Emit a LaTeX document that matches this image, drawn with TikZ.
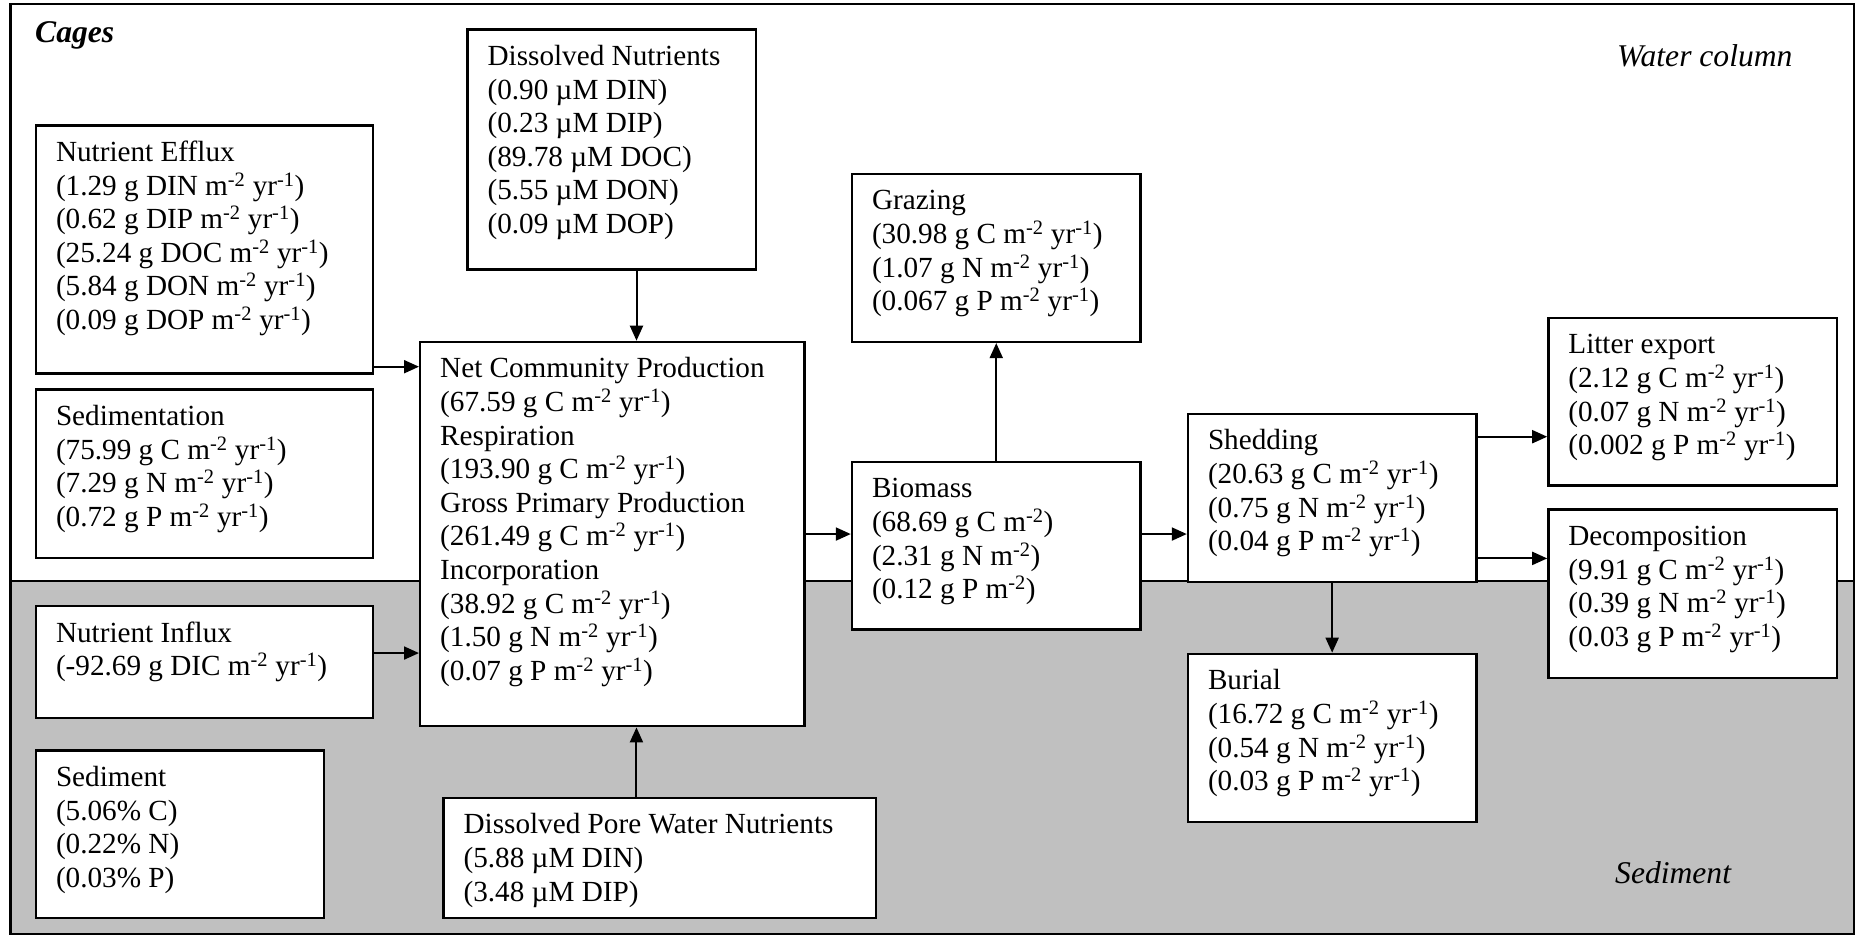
\documentclass[tikz,border=0pt]{standalone}
\usepackage{fontspec}
\setmainfont{Liberation Serif}
\usetikzlibrary{arrows.meta}
\definecolor{sedgray}{HTML}{C0C0C0}
\newcommand{\flx}{m\textsuperscript{-2} yr\textsuperscript{-1}}
\newcommand{\sqm}{m\textsuperscript{-2}}
\begin{document}
\begin{tikzpicture}[x=1pt,y=-1pt,
  bx/.style={draw, fill=white, line width=2.4pt, inner sep=0pt, anchor=north west},
  txt/.style={anchor=north west, align=left, inner sep=0pt, font=\fontsize{29.2}{33.6}\selectfont},
  arr/.style={line width=2pt, -{Triangle[length=15pt,width=13pt]}},
  lbl/.style={anchor=base west, inner sep=0pt, font=\fontsize{31.6}{36}\selectfont\itshape}]

\useasboundingbox (0,0) rectangle (1856,936);
% sediment layer and frame
\fill[sedgray] (10.5,581) rectangle (1854,934);
\draw[line width=2.2pt] (10.5,581) -- (1854,581);
\draw[line width=2.5pt] (10.5,4) rectangle (1854,934);

% region labels
\node[lbl, font=\fontsize{31.6}{36}\selectfont\bfseries\itshape] (cages) at (35,43) {Cages};
\node[lbl] (wcol) at (1617,67) {Water column};
\node[lbl] (sedl) at (1615,883) {Sediment};

% boxes
\node[bx, minimum width=336.9pt, minimum height=248pt] (ne) at (34.8,124.3) {};
\node[bx, minimum width=336.9pt, minimum height=168.4pt] (sed) at (34.8,388.3) {};
\node[bx, minimum width=336.9pt, minimum height=111.7pt] (ni) at (34.8,605) {};
\node[bx, minimum width=287.8pt, minimum height=167.4pt] (sdm) at (34.8,749.3) {};
\node[bx, minimum width=288.6pt, minimum height=240pt] (dn) at (466.4,28.3) {};
\node[bx, minimum width=384.2pt, minimum height=384.3pt] (ncp) at (419,340.7) {};
\node[bx, minimum width=432.1pt, minimum height=120pt] (dpw) at (442.4,796.7) {};
\node[bx, minimum width=288.5pt, minimum height=168pt] (gr) at (850.8,172.7) {};
\node[bx, minimum width=288.5pt, minimum height=167.6pt] (bio) at (850.8,460.7) {};
\node[bx, minimum width=288.3pt, minimum height=168.3pt] (sh) at (1186.8,412.7) {};
\node[bx, minimum width=288.6pt, minimum height=167.6pt] (lit) at (1547.2,316.7) {};
\node[bx, minimum width=288.6pt, minimum height=168.4pt] (dec) at (1547.2,508.3) {};
\node[bx, minimum width=288.3pt, minimum height=168pt] (bur) at (1186.8,652.7) {};

% texts
\node[txt] (ne-t) at ([xshift=21pt,yshift=-13.5pt]ne.north west) {\strut Nutrient Efflux\\(1.29 g DIN \flx)\\(0.62 g DIP \flx)\\(25.24 g DOC \flx)\\(5.84 g DON \flx)\\(0.09 g DOP \flx)};
\node[txt] (sed-t) at ([xshift=21pt,yshift=-13.5pt]sed.north west) {\strut Sedimentation\\(75.99 g C \flx)\\(7.29 g N \flx)\\(0.72 g P \flx)};
\node[txt] (ni-t) at ([xshift=21pt,yshift=-13.5pt]ni.north west) {\strut Nutrient Influx\\(-92.69 g DIC \flx)};
\node[txt] (sdm-t) at ([xshift=21pt,yshift=-13.5pt]sdm.north west) {\strut Sediment\\(5.06\% C)\\(0.22\% N)\\(0.03\% P)};
\node[txt] (dn-t) at ([xshift=21pt,yshift=-13.5pt]dn.north west) {\strut Dissolved Nutrients\\(0.90 µM DIN)\\(0.23 µM DIP)\\(89.78 µM DOC)\\(5.55 µM DON)\\(0.09 µM DOP)};
\node[txt] (ncp-t) at ([xshift=21pt,yshift=-13.5pt]ncp.north west) {\strut Net Community Production\\(67.59 g C \flx)\\Respiration\\(193.90 g C \flx)\\Gross Primary Production\\(261.49 g C \flx)\\Incorporation\\(38.92 g C \flx)\\(1.50 g N \flx)\\(0.07 g P \flx)};
\node[txt] (dpw-t) at ([xshift=21pt,yshift=-13.5pt]dpw.north west) {\strut Dissolved Pore Water Nutrients\\(5.88 µM DIN)\\(3.48 µM DIP)};
\node[txt] (gr-t) at ([xshift=21pt,yshift=-13.5pt]gr.north west) {\strut Grazing\\(30.98 g C \flx)\\(1.07 g N \flx)\\(0.067 g P \flx)};
\node[txt] (bio-t) at ([xshift=21pt,yshift=-13.5pt]bio.north west) {\strut Biomass\\(68.69 g C \sqm)\\(2.31 g N \sqm)\\(0.12 g P \sqm)};
\node[txt] (sh-t) at ([xshift=21pt,yshift=-13.5pt]sh.north west) {\strut Shedding\\(20.63 g C \flx)\\(0.75 g N \flx)\\(0.04 g P \flx)};
\node[txt] (lit-t) at ([xshift=21pt,yshift=-13.5pt]lit.north west) {\strut Litter export\\(2.12 g C \flx)\\(0.07 g N \flx)\\(0.002 g P \flx)};
\node[txt] (dec-t) at ([xshift=21pt,yshift=-13.5pt]dec.north west) {\strut Decomposition\\(9.91 g C \flx)\\(0.39 g N \flx)\\(0.03 g P \flx)};
\node[txt] (bur-t) at ([xshift=21pt,yshift=-13.5pt]bur.north west) {\strut Burial\\(16.72 g C \flx)\\(0.54 g N \flx)\\(0.03 g P \flx)};

% connectors
\draw[arr] ([yshift=8pt]ne.south east) coordinate (a1) -- (a1 -| ncp.west);
\draw[arr] ([yshift=9pt]ni.east) coordinate (a2) -- (a2 -| ncp.west);
\draw[arr] ([xshift=24.6pt]dn.south) coordinate (a3) -- (a3 |- ncp.north);
\draw[arr] ([xshift=-23.2pt]dpw.north) coordinate (a4) -- (a4 |- ncp.south);
\draw[arr] (ncp.east) -- (ncp.east -| bio.west);
\draw[arr] (bio.north) -- (gr.south);
\draw[arr] (ncp.east -| bio.east) -- (ncp.east -| sh.west);
\draw[arr] ([yshift=-24pt]sh.north east) coordinate (a5) -- (a5 -| lit.west);
\draw[arr] ([yshift=25pt]sh.south east) coordinate (a6) -- (a6 -| dec.west);
\draw[arr] (sh.south) -- (bur.north);
\end{tikzpicture}
\end{document}
